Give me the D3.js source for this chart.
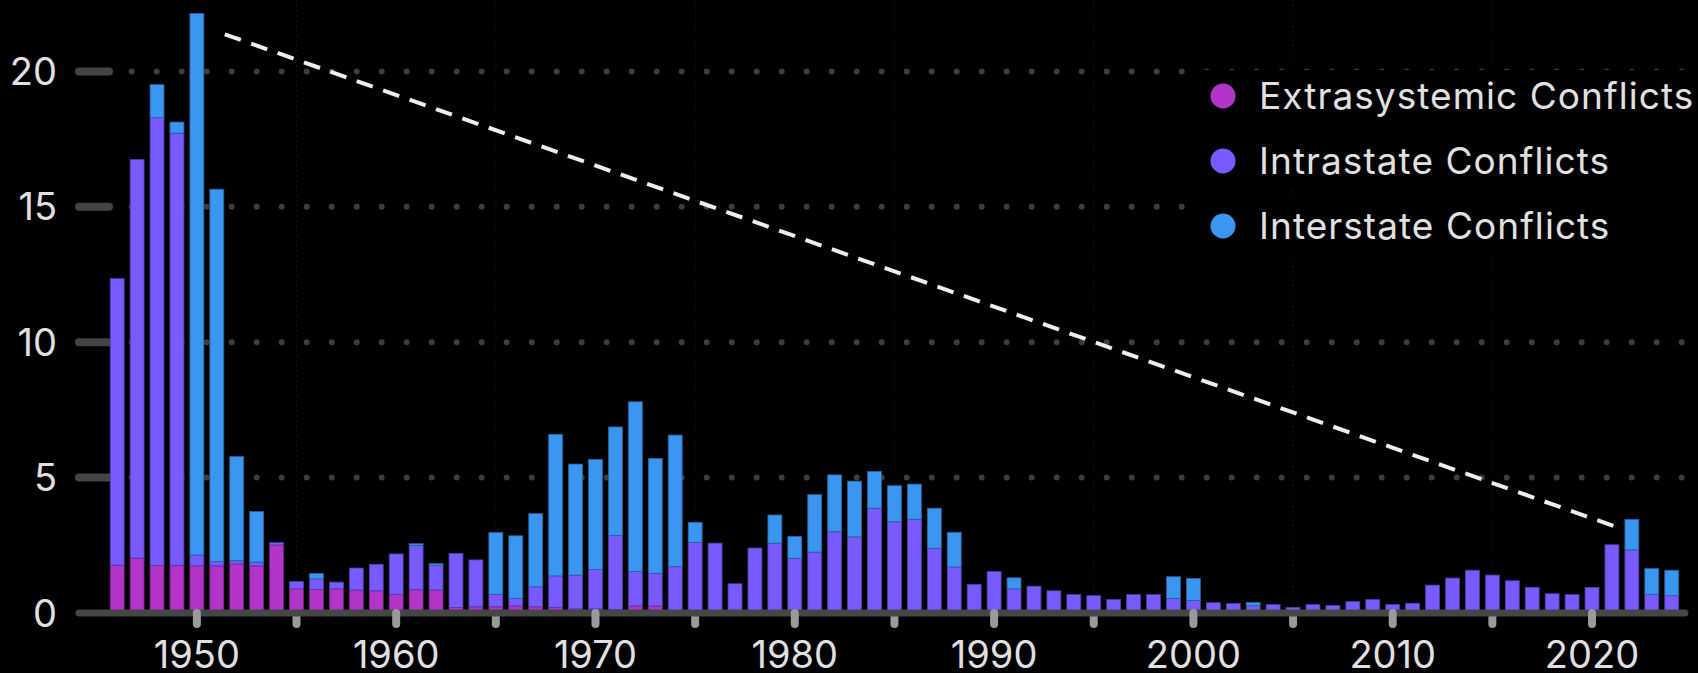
<!DOCTYPE html>
<html>
<head>
<meta charset="utf-8">
<script src="https://cdn.jsdelivr.net/npm/d3@7"></script>
<style>
  html, body { margin: 0; background: #000; overflow: hidden; }
</style>
</head>
<body>
<div id="chart"></div>
<script>
// years on the x axis
var years = d3.range(1946, 2025);

// conflicts per year (1946 .. 2024)
var extrasystemic = [
  1.77, 2.03, 1.76, 1.76, 1.74, 1.74, 1.81, 1.74, 2.51, 0.89,
  0.87, 0.89, 0.85, 0.82, 0.68, 0.86, 0.85, 0.20, 0.23, 0.23,
  0.26, 0.23, 0.20, 0.15, 0.15, 0.12, 0.26, 0.26, 0, 0,
  0, 0, 0, 0, 0, 0, 0, 0, 0, 0,
  0, 0, 0, 0, 0, 0, 0, 0, 0, 0,
  0, 0, 0, 0, 0, 0, 0, 0, 0, 0,
  0, 0, 0, 0, 0, 0, 0, 0, 0, 0,
  0, 0, 0, 0, 0, 0, 0, 0, 0
];
var intrastate = [
  10.58, 14.72, 16.53, 15.96, 0.40, 0.16, 0.12, 0.14, 0.09, 0.27,
  0.39, 0.25, 0.81, 0.98, 1.50, 1.64, 0.90, 2.00, 1.73, 0.46,
  0.28, 0.74, 1.17, 1.25, 1.46, 2.74, 1.27, 1.21, 1.71, 2.61,
  2.58, 1.08, 2.40, 2.58, 2.02, 2.25, 3.00, 2.81, 3.87, 3.37,
  3.46, 2.39, 1.70, 1.06, 1.53, 0.89, 0.99, 0.82, 0.68, 0.64,
  0.50, 0.68, 0.68, 0.54, 0.46, 0.38, 0.35, 0.27, 0.31, 0.21,
  0.31, 0.28, 0.42, 0.50, 0.31, 0.36, 1.03, 1.29, 1.58, 1.40,
  1.19, 0.95, 0.71, 0.68, 0.94, 2.52, 2.33, 0.69, 0.64
];
var interstate = [
  0, 0, 1.22, 0.41, 20.0, 13.75, 3.85, 1.87, 0, 0,
  0.20, 0, 0, 0, 0, 0.06, 0.07, 0, 0, 2.28,
  2.31, 2.70, 5.23, 4.10, 4.06, 4.01, 6.27, 4.24, 4.86, 0.74,
  0, 0, 0, 1.04, 0.81, 2.12, 2.10, 2.06, 1.36, 1.33,
  1.30, 1.48, 1.28, 0, 0, 0.41, 0, 0, 0, 0,
  0, 0, 0, 0.80, 0.82, 0, 0, 0.12, 0, 0,
  0, 0, 0, 0, 0, 0, 0, 0, 0, 0,
  0, 0, 0, 0, 0, 0, 1.13, 0.95, 0.94
];

var seriesKeys = ["extrasystemic", "intrastate", "interstate"];
var seriesNames = ["Extrasystemic Conflicts", "Intrastate Conflicts", "Interstate Conflicts"];
var seriesColors = ["#b234c8", "#785aff", "#3a96f0"];

var yTicks = [0, 5, 10, 15, 20];
var majorYears = [1950, 1960, 1970, 1980, 1990, 2000, 2010, 2020];
var minorYears = [1955, 1965, 1975, 1985, 1995, 2005, 2015];

// dashed trend line, start and end
var trendYears = [1951.4, 2021.1];
var trendValues = [21.37, 3.21];

var width = 1698, height = 673;
var font = "Inter, 'Liberation Sans', Arial, sans-serif";

var rows = years.map(function(yr, i) {
  return { year: yr, extrasystemic: extrasystemic[i], intrastate: intrastate[i], interstate: interstate[i] };
});

var svg = d3.select("#chart")
  .append("svg")
  .attr("width", width)
  .attr("height", height)
  .style("background", "#000");

var x = d3.scaleBand()
  .domain(years)
  .range([107.2, 1681.7])
  .paddingInner(0.3)
  .paddingOuter(0.15);

var xMid = function(yr) { return x(yr) + x.bandwidth() / 2; };

var xYear = d3.scaleLinear()
  .domain([years[0], years[years.length - 1]])
  .range([xMid(years[0]), xMid(years[years.length - 1])]);

var y = d3.scaleLinear()
  .domain([0, 20])
  .range([613, 71.4]);

// faint vertical dotted lines at the half decades
svg.append("g")
  .selectAll("line")
  .data(minorYears)
  .enter()
  .append("line")
  .attr("x1", d => xMid(d))
  .attr("x2", d => xMid(d))
  .attr("y1", 0)
  .attr("y2", y(0))
  .attr("stroke", "#121212")
  .attr("stroke-width", 1)
  .attr("stroke-dasharray", "2,3");

// dotted horizontal grid
svg.append("g")
  .selectAll("line")
  .data(yTicks.filter(d => d > 0))
  .enter()
  .append("line")
  .attr("x1", 131.7)
  .attr("x2", 1690)
  .attr("y1", d => y(d))
  .attr("y2", d => y(d))
  .attr("stroke", "#3d3d3d")
  .attr("stroke-width", 6)
  .attr("stroke-linecap", "round")
  .attr("stroke-dasharray", "0,25");

// legend rows sit on black boxes that hide the grid
svg.append("g")
  .selectAll("rect")
  .data(seriesNames)
  .enter()
  .append("rect")
  .attr("x", 1190)
  .attr("y", (d, i) => 70 + i * 65)
  .attr("width", width - 1190)
  .attr("height", 52)
  .attr("fill", "#000");

// y tick dashes
svg.append("g")
  .selectAll("line")
  .data(yTicks.filter(d => d > 0))
  .enter()
  .append("line")
  .attr("x1", 79)
  .attr("x2", 109)
  .attr("y1", d => y(d))
  .attr("y2", d => y(d))
  .attr("stroke", "#444")
  .attr("stroke-width", 8)
  .attr("stroke-linecap", "round");

// stacked bars
var stacked = d3.stack().keys(seriesKeys)(rows);

svg.append("g")
  .selectAll("g")
  .data(stacked)
  .enter()
  .append("g")
  .attr("fill", (d, i) => seriesColors[i])
  .attr("stroke", (d, i) => d3.color(seriesColors[i]).darker(1.2))
  .attr("stroke-width", 0.8)
  .selectAll("rect")
  .data(d => d.filter(s => s[1] - s[0] > 0))
  .enter()
  .append("rect")
  .attr("x", d => x(d.data.year))
  .attr("width", x.bandwidth())
  .attr("y", d => y(d[1]))
  .attr("height", d => y(d[0]) - y(d[1]));

// minor x ticks (behind the axis line)
svg.append("g")
  .selectAll("line")
  .data(minorYears)
  .enter()
  .append("line")
  .attr("x1", d => xMid(d))
  .attr("x2", d => xMid(d))
  .attr("y1", 614)
  .attr("y2", 624)
  .attr("stroke", "#9a9a9a")
  .attr("stroke-width", 8)
  .attr("stroke-linecap", "round");

// axis line
svg.append("line")
  .attr("x1", 79)
  .attr("x2", 1685)
  .attr("y1", y(0))
  .attr("y2", y(0))
  .attr("stroke", "#464646")
  .attr("stroke-width", 7)
  .attr("stroke-linecap", "round");

// major x ticks
svg.append("g")
  .selectAll("line")
  .data(majorYears)
  .enter()
  .append("line")
  .attr("x1", d => xMid(d))
  .attr("x2", d => xMid(d))
  .attr("y1", 613)
  .attr("y2", 624)
  .attr("stroke", "#9a9a9a")
  .attr("stroke-width", 8)
  .attr("stroke-linecap", "round");

// y labels
svg.append("g")
  .selectAll("text")
  .data(yTicks)
  .enter()
  .append("text")
  .text(d => d)
  .attr("x", 57)
  .attr("y", d => y(d))
  .attr("dy", "0.36em")
  .attr("text-anchor", "end")
  .attr("font-family", font)
  .attr("font-size", 38)
  .attr("fill", "#e0e0e0");

// x labels
svg.append("g")
  .selectAll("text")
  .data(majorYears)
  .enter()
  .append("text")
  .text(d => d)
  .attr("x", d => xMid(d))
  .attr("y", 668)
  .attr("text-anchor", "middle")
  .attr("font-family", font)
  .attr("font-size", 38)
  .attr("fill", "#e0e0e0");

// dashed trend line
svg.append("path")
  .datum(trendYears.map((yr, i) => [yr, trendValues[i]]))
  .attr("d", d3.line().x(d => xYear(d[0])).y(d => y(d[1])))
  .attr("fill", "none")
  .attr("stroke", "#eeeeee")
  .attr("stroke-width", 4)
  .attr("stroke-dasharray", "17,11");

// legend
var legend = svg.append("g")
  .selectAll("g")
  .data(seriesNames)
  .enter()
  .append("g")
  .attr("transform", (d, i) => `translate(0, ${i * 65})`);

legend.append("circle")
  .attr("cx", 1223)
  .attr("cy", 96)
  .attr("r", 12.5)
  .attr("fill", (d, i) => seriesColors[i]);

legend.append("text")
  .text(d => d)
  .attr("x", 1259)
  .attr("y", 109)
  .attr("font-family", font)
  .attr("font-size", 37)
  .attr("letter-spacing", "1.05px")
  .attr("fill", "#e0e0e0");
</script>
</body>
</html>
